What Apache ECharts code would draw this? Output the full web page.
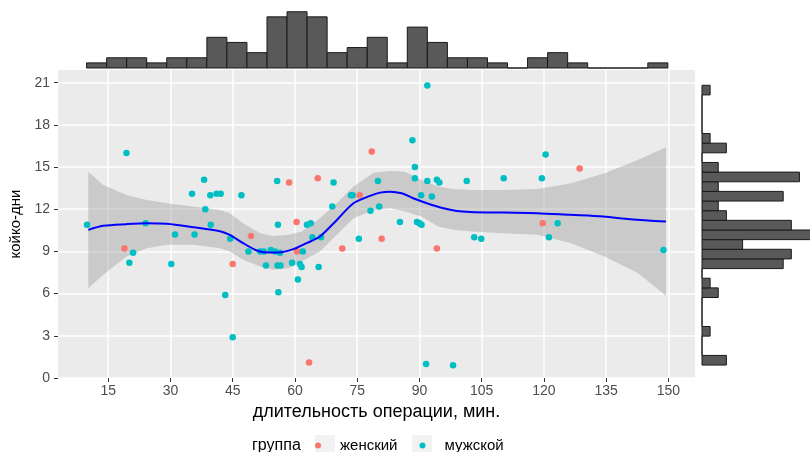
<!DOCTYPE html>
<html>
<head>
<meta charset="utf-8">
<script src="https://cdn.jsdelivr.net/npm/echarts@6/dist/echarts.min.js"></script>
<style>
	html, body { margin: 0; padding: 0; background: #fff; }
	#chart { width: 810px; height: 452px; }
</style>
</head>
<body>
<div id="chart"></div>
<script>
// tick labels
const xTicks = [15, 30, 45, 60, 75, 90, 105, 120, 135, 150]
const yTicks = [0, 3, 6, 9, 12, 15, 18, 21]

// points: [минуты, койко-дни]
const femalePoints = [
	[18.9, 9.2], [45.0, 8.1], [49.4, 10.1], [58.6, 13.9], [60.4, 11.1],
	[60.5, 9.0], [63.4, 1.1], [65.5, 14.2], [71.4, 9.2], [75.6, 13.0],
	[78.5, 16.1], [80.9, 9.9], [94.2, 9.2], [119.7, 11.0], [128.6, 14.9],
]
const malePoints = [
	[9.9, 10.9], [19.4, 16.0], [21.0, 8.9], [20.1, 8.2], [24.0, 11.0],
	[30.2, 8.1], [31.1, 10.2], [35.2, 13.1], [35.8, 10.2], [38.1, 14.1],
	[38.4, 12.0], [39.6, 13.0], [39.7, 10.9], [41.1, 13.1], [42.1, 13.1],
	[43.2, 5.9], [44.4, 9.9], [45.0, 2.9], [47.1, 13.0], [48.8, 9.0],
	[51.6, 9.0], [52.5, 9.0], [53.0, 8.0], [54.2, 9.1], [55.2, 9.0],
	[55.7, 14.0], [55.9, 10.9], [55.8, 8.0], [56.5, 8.0], [56.0, 6.1],
	[56.4, 8.9], [59.3, 8.2], [60.7, 7.0], [61.2, 8.1], [61.6, 7.9],
	[61.9, 9.0], [62.9, 10.9], [63.8, 11.0], [64.2, 10.0], [65.7, 7.9],
	[66.3, 10.0], [69.0, 12.2], [69.3, 13.9], [73.5, 13.0], [73.9, 13.0],
	[75.4, 9.9], [78.2, 11.9], [80.0, 14.0], [80.3, 12.2], [85.3, 11.1],
	[88.3, 16.9], [88.9, 15.0], [88.9, 14.2], [89.4, 11.1], [90.0, 11.0],
	[90.5, 10.9], [90.4, 13.0], [91.9, 20.8], [91.9, 14.0], [91.6, 1.0],
	[93.0, 12.9], [94.2, 14.1], [94.8, 13.9], [98.1, 0.9], [101.4, 14.0],
	[103.2, 10.0], [104.9, 9.9], [110.3, 14.2], [119.5, 14.2], [120.4, 15.9],
	[121.2, 10.0], [123.3, 11.0], [148.8, 9.1],
]

// loess fit
const smoothX = [10.2, 13.8, 19.4, 24.3, 29.1, 35.5, 41.9, 44.3, 47.5, 50.8, 53.6, 56.0, 59.6, 62.8, 66.0, 70.1, 74.1, 78.1, 80.5, 82.9, 85.7, 88.5, 91.8, 95.8, 99.0, 102.2, 110.2, 118.3, 126.3, 134.3, 140.8, 149.4]
const smoothY = [10.53, 10.82, 10.94, 11.0, 10.96, 10.72, 10.44, 10.18, 9.59, 9.07, 8.92, 8.92, 9.16, 9.59, 10.06, 11.24, 12.43, 12.95, 13.18, 13.25, 13.14, 12.78, 12.43, 12.07, 11.88, 11.81, 11.76, 11.72, 11.6, 11.48, 11.29, 11.12]

// confidence band
const bandX = [10.2, 13.8, 19.4, 24.3, 29.1, 35.5, 41.9, 44.3, 47.5, 51.6, 54.8, 58.5, 61.6, 66.0, 70.1, 74.1, 79.0, 82.9, 86.5, 90.5, 94.5, 98.5, 102.5, 110.5, 118.5, 126.6, 134.6, 142.6, 149.4]
const bandUpper = [14.67, 13.73, 13.02, 12.66, 12.43, 12.19, 11.95, 11.72, 11.0, 10.3, 10.1, 10.18, 10.41, 11.36, 12.43, 13.61, 14.6, 14.72, 14.67, 14.08, 13.61, 13.42, 13.37, 13.37, 13.44, 13.85, 14.56, 15.5, 16.4]
const bandLower = [6.39, 7.34, 8.64, 9.23, 9.47, 9.47, 9.23, 8.99, 8.4, 7.93, 7.69, 7.81, 8.28, 8.99, 10.18, 11.36, 11.95, 12.07, 11.83, 11.48, 10.77, 10.53, 10.41, 10.3, 10.18, 9.59, 8.64, 7.46, 5.84]

// marginal histograms
const topBinStart = 9.79
const topBinWidth = 4.83
const topCounts = [1, 2, 2, 1, 2, 2, 6, 5, 3, 10, 11, 10, 3, 4, 6, 1, 8, 5, 2, 2, 1, 0, 2, 3, 1, 0, 0, 0, 1]
const rightBinStart = 0.92
const rightBinWidth = 0.686
const rightCounts = [3, 0, 0, 1, 0, 0, 0, 2, 1, 0, 10, 11, 5, 14, 11, 3, 2, 10, 2, 12, 2, 0, 3, 1, 0, 0, 0, 0, 1]

const chart = echarts.init(document.getElementById('chart'))

const topBins = topCounts.map((c, i) => [topBinStart + i * topBinWidth, topBinStart + (i + 1) * topBinWidth, c])
const rightBins = rightCounts.map((c, i) => [rightBinStart + i * rightBinWidth, rightBinStart + (i + 1) * rightBinWidth, c])

const histStyle = { fill: '#595959', stroke: '#1A1A1A', lineWidth: 1 }
const font = 'Liberation Sans'

const xMin = 2.9
const xMax = 156.4
const yMin = 0
const yMax = 21.9

const options = {
	animation: false,
	title: {
		text: 'группа',
		left: 252,
		top: 438,
		padding: 0,
		textStyle: { fontFamily: font, fontSize: 16, fontWeight: 'normal', color: '#000' },
	},
	legend: {
		data: ['женский', 'мужской'],
		left: 315,
		top: 438,
		padding: 0,
		icon: 'circle',
		itemWidth: 20,
		itemHeight: 6,
		itemGap: 22,
		textStyle: { fontFamily: font, fontSize: 15, color: '#000', padding: [0, 0, 0, 7] },
	},
	graphic: [
		{ type: 'rect', left: 315, top: 435, shape: { width: 20, height: 20 }, style: { fill: '#F2F2F2' }, z: -1 },
		{ type: 'rect', left: 412, top: 435, shape: { width: 20, height: 20 }, style: { fill: '#F2F2F2' }, z: -1 },
	],
	grid: [
		{ left: 58, right: 115, top: 70, bottom: 74, show: true, backgroundColor: '#EBEBEB', borderWidth: 0 },
		{ left: 58, right: 115, top: 0, height: 68 },
		{ left: 702, right: 0, top: 70, bottom: 74 },
	],
	xAxis: [
		{
			type: 'value', gridIndex: 0, min: xMin, max: xMax,
			name: 'длительность операции, мин.', nameLocation: 'middle', nameGap: 23,
			nameTextStyle: { fontFamily: font, fontSize: 18, color: '#000' },
			axisLine: { show: false },
			axisTick: { show: true, length: 4, customValues: xTicks, lineStyle: { color: '#333' } },
			axisLabel: { customValues: xTicks, margin: 6, fontFamily: font, fontSize: 14, color: '#4D4D4D' },
			splitLine: { show: true, lineStyle: { color: '#fff', width: 1.5 } },
		},
		{ type: 'value', gridIndex: 1, min: xMin, max: xMax, show: false, splitLine: { show: false } },
		{ type: 'value', gridIndex: 2, min: 0, max: 13.3, show: false, splitLine: { show: false } },
	],
	yAxis: [
		{
			type: 'value', gridIndex: 0, min: yMin, max: yMax,
			name: 'койко-дни', nameLocation: 'middle', nameRotate: 90, nameGap: 33,
			nameTextStyle: { fontFamily: font, fontSize: 15, color: '#000' },
			axisLine: { show: false },
			axisTick: { show: true, length: 4, customValues: yTicks, lineStyle: { color: '#333' } },
			axisLabel: { customValues: yTicks, margin: 8, fontFamily: font, fontSize: 14, color: '#4D4D4D' },
			splitLine: { show: true, lineStyle: { color: '#fff', width: 1.5 } },
		},
		{ type: 'value', gridIndex: 1, min: 0, max: 13.3, show: false, splitLine: { show: false } },
		{ type: 'value', gridIndex: 2, min: yMin, max: yMax, show: false, splitLine: { show: false } },
	],
	series: [
		{
			name: 'женский', type: 'scatter', xAxisIndex: 0, yAxisIndex: 0,
			data: femalePoints, symbolSize: 6.5, itemStyle: { color: '#F8766D', opacity: 1 },
		},
		{
			name: 'мужской', type: 'scatter', xAxisIndex: 0, yAxisIndex: 0,
			data: malePoints, symbolSize: 6.5, itemStyle: { color: '#00BFC4', opacity: 1 },
		},
		{
			type: 'custom', xAxisIndex: 0, yAxisIndex: 0, silent: true,
			data: [[bandX[0], bandUpper[0]]],
			renderItem: function (params, api) {
				const pts = []
				for (let i = 0; i < bandX.length; i++) pts.push(api.coord([bandX[i], bandUpper[i]]))
				for (let i = bandX.length - 1; i >= 0; i--) pts.push(api.coord([bandX[i], bandLower[i]]))
				return { type: 'polygon', shape: { points: pts }, style: { fill: 'rgba(153,153,153,0.4)' } }
			},
		},
		{
			type: 'line', xAxisIndex: 0, yAxisIndex: 0, silent: true,
			data: smoothX.map((x, i) => [x, smoothY[i]]),
			smooth: 0.3, showSymbol: false,
			lineStyle: { color: '#0000FF', width: 2 },
		},
		{
			type: 'custom', xAxisIndex: 1, yAxisIndex: 1, silent: true,
			data: topBins,
			renderItem: function (params, api) {
				const p0 = api.coord([api.value(0), 0])
				const p1 = api.coord([api.value(1), api.value(2)])
				return { type: 'rect', shape: { x: p0[0], y: p1[1], width: p1[0] - p0[0], height: p0[1] - p1[1] }, style: histStyle }
			},
		},
		{
			type: 'custom', xAxisIndex: 2, yAxisIndex: 2, silent: true,
			data: rightBins,
			encode: { x: 2, y: [0, 1] },
			renderItem: function (params, api) {
				const p0 = api.coord([0, api.value(0)])
				const p1 = api.coord([api.value(2), api.value(1)])
				return { type: 'rect', shape: { x: p0[0], y: p1[1], width: p1[0] - p0[0], height: p0[1] - p1[1] }, style: histStyle }
			},
		},
	],
}

chart.setOption(options)
</script>
</body>
</html>
